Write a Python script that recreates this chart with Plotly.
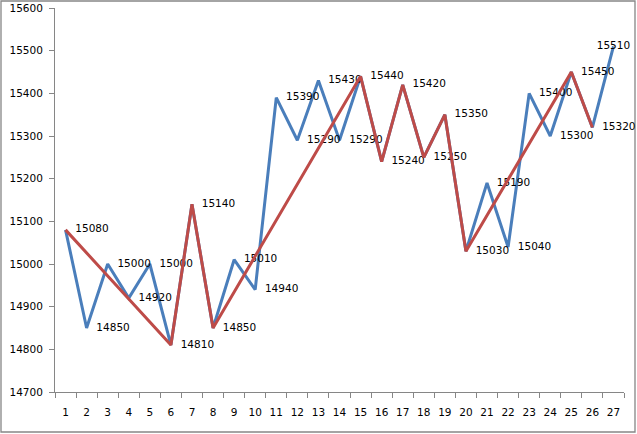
import plotly.graph_objects as go

categories = list(range(1, 28))
blue_values = [15080, 14850, 15000, 14920, 15000, 14810, 15140, 14850, 15010, 14940,
               15390, 15290, 15430, 15290, 15440, 15240, 15420, 15250, 15350, 15030,
               15190, 15040, 15400, 15300, 15450, 15320, 15510]
red_x = [1, 6, 7, 8, 15, 16, 17, 18, 19, 20, 25, 26]
red_values = [15080, 14810, 15140, 14850, 15440, 15240, 15420, 15250, 15350, 15030, 15450, 15320]
y_ticks = list(range(14700, 15601, 100))

FONT = "DejaVu Sans"
GREY = "#868686"

text_pos = ["middle right"] * len(categories)
text_pos[-1] = "middle center"

fig = go.Figure()
fig.add_trace(go.Scatter(
    x=categories, y=blue_values, mode="lines+markers+text",
    line=dict(color="#4A7EBB", width=3),
    marker=dict(size=14, color="rgba(0,0,0,0)"),
    text=[str(v) for v in blue_values], textposition=text_pos,
    textfont=dict(family=FONT, size=10.5, color="black"),
    cliponaxis=False, hoverinfo="skip"))
fig.add_trace(go.Scatter(
    x=red_x, y=red_values, mode="lines",
    line=dict(color="#BE4B48", width=3), hoverinfo="skip"))

W, H = 637, 434
ml, mr, mt, mb = 55, 13, 8, 42
pw, ph = W - ml - mr, H - mt - mb
fig.add_shape(type="rect", xref="paper", yref="paper",
              x0=(1 - ml) / pw, x1=(635 - ml) / pw,
              y0=(H - mb - 432) / ph, y1=(H - mb - 1) / ph,
              line=dict(color=GREY, width=1.3), layer="below")

fig.update_layout(
    width=W, height=H, margin=dict(l=ml, r=mr, t=mt, b=mb, autoexpand=False),
    paper_bgcolor="white", plot_bgcolor="white", showlegend=False,
    font=dict(family=FONT, size=10.5, color="black"),
    xaxis=dict(range=[0.5, 27.5], tickmode="array", tickvals=categories,
               ticktext=[str(c) for c in categories], ticks="",
               ticklabelstandoff=10, showgrid=False, zeroline=False,
               showline=True, linecolor=GREY, linewidth=1, automargin=False,
               minor=dict(ticks="outside", tickmode="array",
                          tickvals=[c - 0.5 for c in categories] + [27.5],
                          ticklen=5, tickcolor=GREY, showgrid=False),
               fixedrange=True),
    yaxis=dict(range=[14700, 15600], tickmode="array", tickvals=y_ticks,
               ticktext=[str(v) for v in y_ticks],
               ticks="outside", ticklen=5, tickcolor=GREY, automargin=False,
               showgrid=False, zeroline=False, showline=True,
               linecolor=GREY, linewidth=1, ticklabelstandoff=4,
               fixedrange=True),
)

fig.write_html("out.html", config={"displayModeBar": False},
               post_script="document.body.style.margin='0';document.body.style.overflow='hidden';")
